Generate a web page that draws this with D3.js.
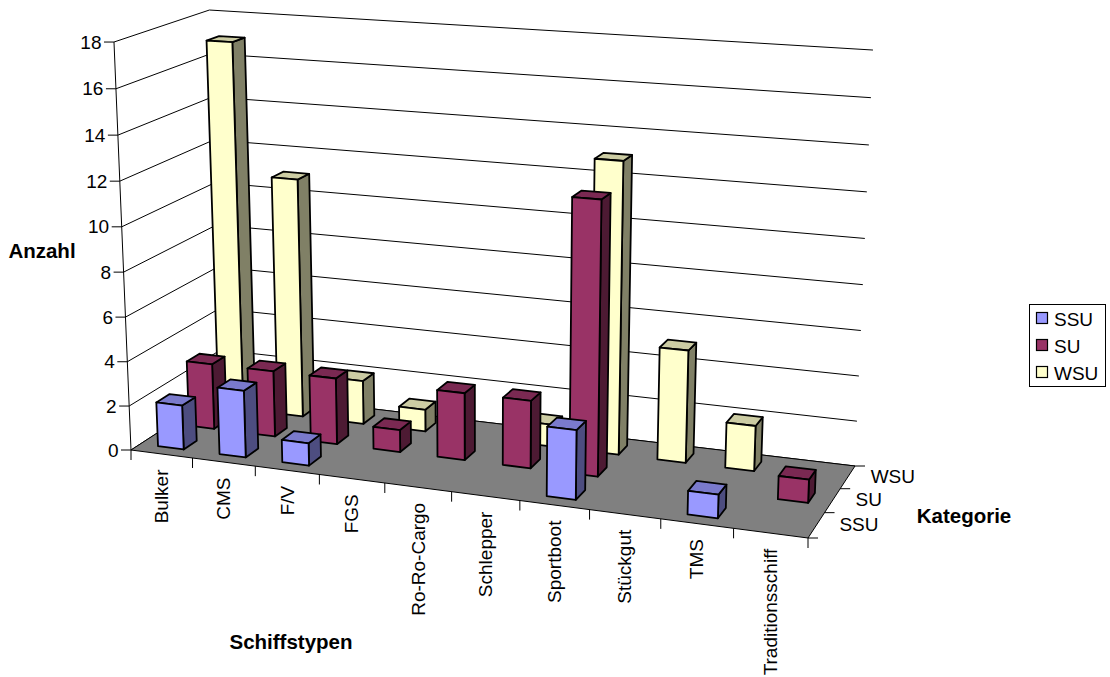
<!DOCTYPE html>
<html>
<head>
<meta charset="utf-8">
<script src="https://cdn.jsdelivr.net/npm/d3@7/dist/d3.min.js"></script>
<style>
html,body{margin:0;padding:0;background:#fff;overflow:hidden;}
svg{display:block;}
text{font-family:"Liberation Sans",Arial,sans-serif;fill:#000;}
</style>
</head>
<body>
<svg id="chart" width="1110" height="677"></svg>
<script>
// Chart data
const categories = ["Bulker","CMS","F/V","FGS","Ro-Ro-Cargo","Schlepper","Sportboot","Stückgut","TMS","Traditionsschiff"];
const seriesNames = ["SSU","SU","WSU"];
const ssuValues = [2,3,1,0,0,0,3,0,1,0];
const suValues  = [3,3,3,1,3,3,12,0,0,1];
const wsuValues = [17,11,2,1,0,1,13,5,2,0];
const valueTicks = [0,2,4,6,8,10,12,14,16,18];

const seriesValues = [ssuValues, suValues, wsuValues];
const faceColors = [
  {front:"#9999FF", side:"#4D4D80", top:"#7A7ACC"},
  {front:"#993366", side:"#4D1A33", top:"#7A2952"},
  {front:"#FFFFCC", side:"#808066", top:"#CCCCA3"}
];

const svg = d3.select("#chart");

// Floor plane corners on screen
const floorQuad = [[131,450],[808,538],[855,466],[222,391]];

// Projective map from the unit square onto a quadrilateral
function quadMap(q){
  const [[x0,y0],[x1,y1],[x2,y2],[x3,y3]] = q;
  const dx1=x1-x2, dx2=x3-x2, sx=x0-x1+x2-x3;
  const dy1=y1-y2, dy2=y3-y2, sy=y0-y1+y2-y3;
  const det=dx1*dy2-dx2*dy1;
  const g=(sx*dy2-dx2*sy)/det, h=(dx1*sy-sx*dy1)/det;
  const a=x1-x0+g*x1, b=x3-x0+h*x3, c=x0;
  const d=y1-y0+g*y1, e=y3-y0+h*y3, f=y0;
  return (u,v)=>{
    const w=g*u+h*v+1;
    return [(a*u+b*v+c)/w,(d*u+e*v+f)/w];
  };
}
const floorMap = quadMap(floorQuad);

const uScale = d3.scaleBand().domain(categories).range([0,1]);
const vScale = d3.scaleBand().domain(seriesNames).range([0,1]);
const wScale = d3.scaleLinear().domain([0,18]).range([0,1]);

// Verticals fan out from a far vanishing point; full height grows with the floor position
const leanK = 0.0483, vanishX = 483;
const heightAt = (x,y) => 0.000905*x + 0.459*y + 201.3;
const foreshorten = 0.035;

function project(u,v,val){
  const t0=wScale(val), t=t0/(1+foreshorten*(1-t0));
  const [fx,fy]=floorMap(u,v);
  return [fx+t*leanK*(fx-vanishX), fy-t*heightAt(fx,fy)];
}
const line = d3.line();
const closed = pts => line(pts)+"Z";
const FONT = 19, TITLE_FONT = 20.5;

// Back wall and side wall gridlines
const grid = svg.append("g").attr("fill","none").attr("stroke","#000").attr("stroke-width",1);
valueTicks.forEach(t=>{
  grid.append("path").attr("d",line([project(0,0,t),project(0,1,t),project(1,1,t)]));
});
grid.append("path").attr("d",line([project(0,0,0),project(0,0,18)]));

// Floor
svg.append("path").attr("d",closed(floorQuad)).attr("fill","#808080").attr("stroke","#000").attr("stroke-width",1);

// Value axis ticks and labels
const axisG = svg.append("g");
valueTicks.forEach(t=>{
  const p=project(0,0,t);
  axisG.append("line").attr("x1",p[0]-10).attr("x2",p[0]).attr("y1",p[1]).attr("y2",p[1]).attr("stroke","#000");
  axisG.append("text").attr("x",p[0]-12.5).attr("y",p[1]+6.5).attr("text-anchor","end").attr("font-size",FONT).text(t);
});

// Category ticks and rotated labels
const step = uScale.bandwidth();
d3.range(categories.length+1).forEach(i=>{
  const p=project(i*step,0,0);
  axisG.append("line").attr("x1",p[0]).attr("x2",p[0]).attr("y1",p[1]).attr("y2",p[1]+10).attr("stroke","#000");
});
categories.forEach(c=>{
  const p=project(uScale(c)+step/2,0,0);
  axisG.append("text").attr("transform",`translate(${p[0]+6.5},${p[1]+15.5}) rotate(-90)`)
    .attr("text-anchor","end").attr("font-size",FONT).text(c);
});

// Series ticks and labels along the right floor edge
const vStep = vScale.bandwidth();
d3.range(seriesNames.length+1).forEach(i=>{
  const p=project(1,i*vStep,0);
  axisG.append("line").attr("x1",p[0]).attr("x2",p[0]+10).attr("y1",p[1]).attr("y2",p[1]).attr("stroke","#000");
});
seriesNames.forEach(s=>{
  const p=project(1,vScale(s)+vStep/2,0);
  axisG.append("text").attr("x",p[0]+23).attr("y",p[1]+5.5).attr("font-size",FONT).text(s);
});

// Bars, back row first so nearer rows overlap them
const barFrac = 0.42;
const bars = svg.append("g").attr("stroke","#000").attr("stroke-width",1.8).attr("stroke-linejoin","round");
[2,1,0].forEach(si=>{
  const name=seriesNames[si], colors=faceColors[si];
  categories.forEach((c,ci)=>{
    const val=seriesValues[si][ci];
    if(!val) return;
    const uMid=uScale(c)+step/2, vMid=vScale(name)+vStep/2;
    const u0=uMid-step*barFrac/2, u1=uMid+step*barFrac/2;
    const v0=vMid-vStep*barFrac/2, v1=vMid+vStep*barFrac/2;
    const bar=bars.append("g");
    bar.append("path").attr("fill",colors.side).attr("d",closed([project(u1,v0,0),project(u1,v1,0),project(u1,v1,val),project(u1,v0,val)]));
    bar.append("path").attr("fill",colors.top).attr("d",closed([project(u0,v0,val),project(u1,v0,val),project(u1,v1,val),project(u0,v1,val)]));
    bar.append("path").attr("fill",colors.front).attr("d",closed([project(u0,v0,0),project(u1,v0,0),project(u1,v0,val),project(u0,v0,val)]));
  });
});

// Axis titles
const title=(x,y,s)=>svg.append("text").attr("x",x).attr("y",y).attr("text-anchor","middle")
  .attr("font-size",TITLE_FONT).attr("font-weight","bold").text(s);
title(42,258,"Anzahl");
title(291,649,"Schiffstypen");
title(964,523,"Kategorie");

// Legend
const legend=svg.append("g");
legend.append("rect").attr("x",1029.5).attr("y",304.5).attr("width",76).attr("height",82)
  .attr("fill","#fff").attr("stroke","#000");
seriesNames.forEach((s,i)=>{
  const y=[319,346,373][i];
  legend.append("rect").attr("x",1036.5).attr("y",y-6.5).attr("width",11).attr("height",11)
    .attr("fill",faceColors[i].front).attr("stroke","#000").attr("stroke-width",1.2);
  legend.append("text").attr("x",1054).attr("y",y+6.5).attr("font-size",FONT).text(s);
});
</script>
</body>
</html>
